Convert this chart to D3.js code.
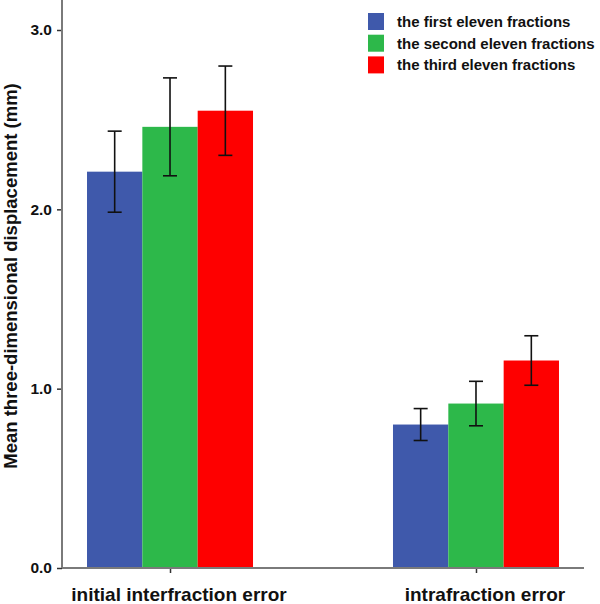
<!DOCTYPE html>
<html>
<head>
<meta charset="utf-8">
<script src="https://cdn.jsdelivr.net/npm/d3@7"></script>
<style>
  html, body { margin: 0; padding: 0; background: #fff; }
  svg text { font-family: "Liberation Sans", Arial, sans-serif; font-weight: bold; fill: #111; }
</style>
</head>
<body>
<div id="chart"></div>
<script>

var categories  = ["initial interfraction error", "intrafraction error"]
  , seriesNames = ["the first eleven fractions", "the second eleven fractions", "the third eleven fractions"]
  , firstMeans  = [2.21, 0.80]
  , firstErr    = [0.226, 0.089]
  , secondMeans = [2.46, 0.917]
  , secondErr   = [0.273, 0.124]
  , thirdMeans  = [2.55, 1.157]
  , thirdErr    = [0.249, 0.138]
  , yTicks      = [0, 1, 2, 3];

var colors = ["#3f59ab", "#2db84a", "#fe0000"];

var series = [
  { name: seriesNames[0], means: firstMeans,  err: firstErr },
  { name: seriesNames[1], means: secondMeans, err: secondErr },
  { name: seriesNames[2], means: thirdMeans,  err: thirdErr }
];

var width  = 600
  , height = 604
  , left   = 62
  , right  = 584
  , bottom = 568;

var svg = d3.select("#chart").append("svg")
  .attr("width", width)
  .attr("height", height);

var x = d3.scalePoint()
    .domain(categories)
    .range([left, right])
    .padding(0.353)
  , sub = d3.scaleBand()
    .domain(d3.range(series.length))
    .range([-83, 83])
    .padding(0)
  , y = d3.scaleLinear()
    .domain([0, 3])
    .range([bottom, 30]);

// bars
series.forEach(function (s, i) {
  svg.append("g")
    .selectAll("rect")
    .data(categories)
    .enter().append("rect")
      .attr("x", function (c) { return x(c) + sub(i); })
      .attr("y", function (c, j) { return y(s.means[j]); })
      .attr("width", sub.bandwidth())
      .attr("height", function (c, j) { return bottom - y(s.means[j]); })
      .attr("fill", colors[i]);
});

// error bars
series.forEach(function (s, i) {
  var g = svg.append("g").attr("stroke", "#111").attr("stroke-width", 1.6);
  categories.forEach(function (c, j) {
    var cx = x(c) + sub(i) + sub.bandwidth() / 2
      , hi = y(s.means[j] + s.err[j])
      , lo = y(s.means[j] - s.err[j]);
    g.append("line").attr("x1", cx).attr("x2", cx).attr("y1", hi).attr("y2", lo);
    g.append("line").attr("x1", cx - 7).attr("x2", cx + 7).attr("y1", hi).attr("y2", hi);
    g.append("line").attr("x1", cx - 7).attr("x2", cx + 7).attr("y1", lo).attr("y2", lo);
  });
});

// y axis
var yAxis = svg.append("g")
  .attr("transform", "translate(" + left + ",0)")
  .call(d3.axisLeft(y).tickValues(yTicks).tickFormat(d3.format(".1f")).tickSize(5).tickPadding(5));
yAxis.select(".domain").remove();
yAxis.append("line")
  .attr("x1", 0).attr("x2", 0)
  .attr("y1", 0).attr("y2", bottom)
  .attr("stroke", "#7a7a7a").attr("stroke-width", 2);
yAxis.selectAll(".tick line").attr("stroke", "#333").attr("stroke-width", 1.5);
yAxis.selectAll(".tick text").style("font-size", "15.5px").attr("fill", "#111");

// x axis
var xAxis = svg.append("g")
  .attr("transform", "translate(0," + bottom + ")")
  .call(d3.axisBottom(x).tickSize(5).tickFormat(""));
xAxis.select(".domain").remove();
xAxis.append("line")
  .attr("x1", left).attr("x2", right)
  .attr("y1", 0).attr("y2", 0)
  .attr("stroke", "#7a7a7a").attr("stroke-width", 2);
xAxis.selectAll(".tick line").attr("stroke", "#333").attr("stroke-width", 1.5);

svg.selectAll(".cat-label")
  .data(categories)
  .enter().append("text")
    .attr("class", "cat-label")
    .attr("x", function (c) { return x(c) + 9; })
    .attr("y", 601)
    .attr("text-anchor", "middle")
    .style("font-size", "19px")
    .text(function (c) { return c; });

// y title
svg.append("text")
  .attr("transform", "translate(17,276) rotate(-90)")
  .attr("text-anchor", "middle")
  .style("font-size", "18.5px")
  .text("Mean three-dimensional displacement (mm)");

// legend
var legend = svg.append("g").attr("transform", "translate(368,13)");
seriesNames.forEach(function (n, i) {
  var row = legend.append("g").attr("transform", "translate(0," + (i * 21.7) + ")");
  row.append("rect").attr("width", 16).attr("height", 17).attr("fill", colors[i]);
  row.append("text")
    .attr("x", 29)
    .attr("y", 14)
    .style("font-size", "15px")
    .text(n);
});

</script>
</body>
</html>
